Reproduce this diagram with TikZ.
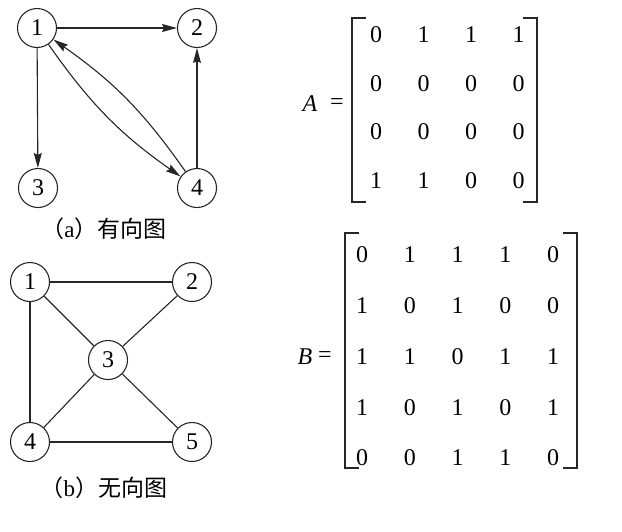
\documentclass[tikz,border=0pt]{standalone}
\usepackage{fontspec}
\setmainfont{Liberation Serif}
\newfontfamily\cjk{Noto Sans CJK SC}
\usetikzlibrary{arrows.meta}
\begin{document}
\begin{tikzpicture}[x=1pt,y=-1pt,
  vtx/.style={circle,draw=black!85,line width=1.1pt,minimum size=39pt,inner sep=0pt,font=\fontsize{24}{27}\selectfont},
  edg/.style={line width=1.1pt,draw=black!85},
  arr/.style={edg,-{Stealth[length=15pt,width=8pt,inset=2pt]}},
  ent/.style={font=\fontsize{24}{27}\selectfont,inner sep=0pt},
  brk/.style={line width=1.4pt,draw=black!85},
  captext/.style={font=\fontsize{23}{26}\selectfont,inner sep=0pt}]
\useasboundingbox (0,0) rectangle (622,531);
% directed graph
\node[vtx] (a1) at (37,28) {1};
\node[vtx] (a2) at (197,28) {2};
\node[vtx] (a3) at (38,188) {3};
\node[vtx] (a4) at (197,188) {4};
\draw[arr] (a1) -- (a2);
\draw[arr] (a1) -- (a3);
\draw[arr] (a4) -- (a2);
\draw[arr] (a1) to[bend right=10] (a4);
\draw[arr] (a4) to[bend right=10] (a1);
\node[captext] (capa) at (104,229) {{\cjk （}a{\cjk ）有向图}};
% undirected graph
\node[vtx] (b1) at (30,282) {1};
\node[vtx] (b2) at (192,282) {2};
\node[vtx] (b3) at (108,360) {3};
\node[vtx] (b4) at (30,442) {4};
\node[vtx] (b5) at (192,442) {5};
\draw[edg] (b1) -- (b2);
\draw[edg] (b1) -- (b3);
\draw[edg] (b1) -- (b4);
\draw[edg] (b2) -- (b3);
\draw[edg] (b3) -- (b4);
\draw[edg] (b3) -- (b5);
\draw[edg] (b4) -- (b5);
\node[captext] (capb) at (104,488) {{\cjk （}b{\cjk ）无向图}};
% matrix A
\node[ent] (Alab) at (310,104) {\textit{A}};
\node[ent] (Aeq) at (337,104) {=};
\draw[brk] (366,18) -- (352,18) -- (352,202) -- (366,202);
\draw[brk] (523,18) -- (537,18) -- (537,202) -- (523,202);
\foreach \r [count=\i] in {{0,1,1,1},{0,0,0,0},{0,0,0,0},{1,1,0,0}} {
  \foreach \v [count=\j] in \r {
    \node[ent] (A\i\j) at ({376+(\j-1)*47.5},{35+(\i-1)*48.5}) {\v};
  }
}
% matrix B
\node[ent] (Blab) at (305,357) {\textit{B}};
\node[ent] (Beq) at (325,357) {=};
\draw[brk] (359,233) -- (345,233) -- (345,468) -- (359,468);
\draw[brk] (563,233) -- (577,233) -- (577,468) -- (563,468);
\foreach \r [count=\i] in {{0,1,1,1,0},{1,0,1,0,0},{1,1,0,1,1},{1,0,1,0,1},{0,0,1,1,0}} {
  \foreach \v [count=\j] in \r {
    \node[ent] (B\i\j) at ({362+(\j-1)*47.75},{255+(\i-1)*50.75}) {\v};
  }
}
\end{tikzpicture}
\end{document}
